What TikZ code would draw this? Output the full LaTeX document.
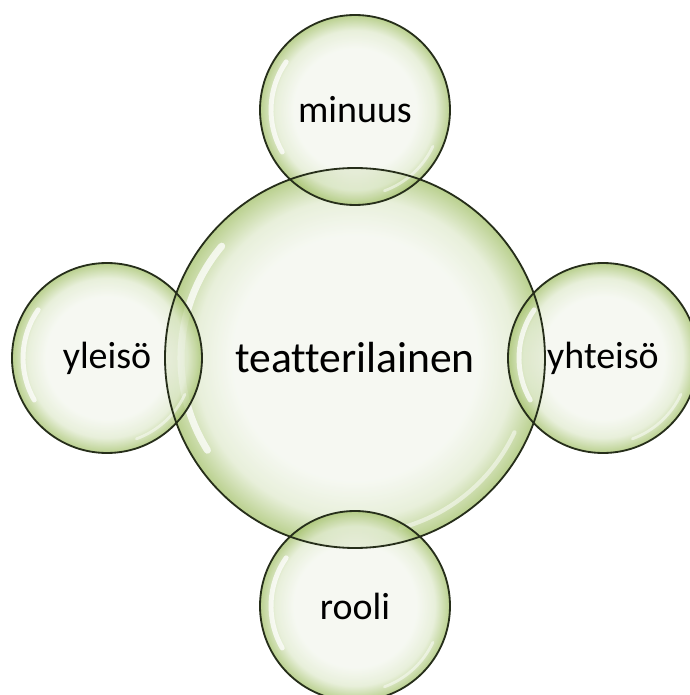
\documentclass[tikz,border=0pt]{standalone}
\usepackage{fontspec}
\setmainfont[Ligatures=NoCommon]{Carlito}
\definecolor{bubcenter}{RGB}{243,246,238}
\definecolor{bubmid}{RGB}{224,234,206}
\definecolor{bubedge}{RGB}{162,192,104}
\definecolor{bubline}{RGB}{38,46,26}
\pgfdeclareradialshading{bubble}{\pgfpoint{0bp}{0bp}}{color(0bp)=(bubcenter); color(16bp)=(bubcenter); color(21bp)=(bubmid); color(25bp)=(bubedge); color(50bp)=(bubedge)}

\begin{document}
\begin{tikzpicture}[auto,
      sphere/.style ={circle, shading=bubble, fill opacity=0.75, text opacity=1,
                      text=black, inner sep=0pt},
      rim/.style ={draw=bubline, line width=1.3pt},
      gloss/.style ={white, line width=5pt, line cap=round, opacity=0.75}]
   \useasboundingbox (-8.875,-8.425) rectangle (8.35,8.95);

   \node[sphere, minimum size=9.5cm, font=\fontsize{31}{36}\selectfont] (core) at (0,0) {teatterilainen};
   \draw[gloss] ([shift={(140:4.35)}]core.center) arc[start angle=140, end angle=212, radius=4.35];
   \draw[gloss, line width=3pt, opacity=0.5] ([shift={(-75:4.4)}]core.center) arc[start angle=-75, end angle=-25, radius=4.4];

   \node[sphere, minimum size=4.75cm, font=\fontsize{27}{32}\selectfont] (self) at (90:6.2cm) {minuus};
   \node[sphere, minimum size=4.75cm, font=\fontsize{27}{32}\selectfont] (audience) at (180:6.2cm) {yleisö};
   \node[sphere, minimum size=4.75cm, font=\fontsize{27}{32}\selectfont] (community) at (0:6.2cm) {yhteisö};
   \node[sphere, minimum size=4.75cm, font=\fontsize{27}{32}\selectfont] (role) at (270:6.2cm) {rooli};

   \foreach \bub in {self, audience, community, role} {
     \draw[gloss, line width=3.5pt] ([shift={(145:2.1)}]\bub.center) arc[start angle=145, end angle=210, radius=2.1];
     \draw[gloss, line width=2pt, opacity=0.5] ([shift={(-70:2.15)}]\bub.center) arc[start angle=-70, end angle=-25, radius=2.15];
   }

   % outlines on top, so they show through the overlaps
   \draw[rim] (core.center) circle[radius=4.75];
   \foreach \bub in {self, audience, community, role}
     \draw[rim] (\bub.center) circle[radius=2.375];
\end{tikzpicture}
\end{document}
